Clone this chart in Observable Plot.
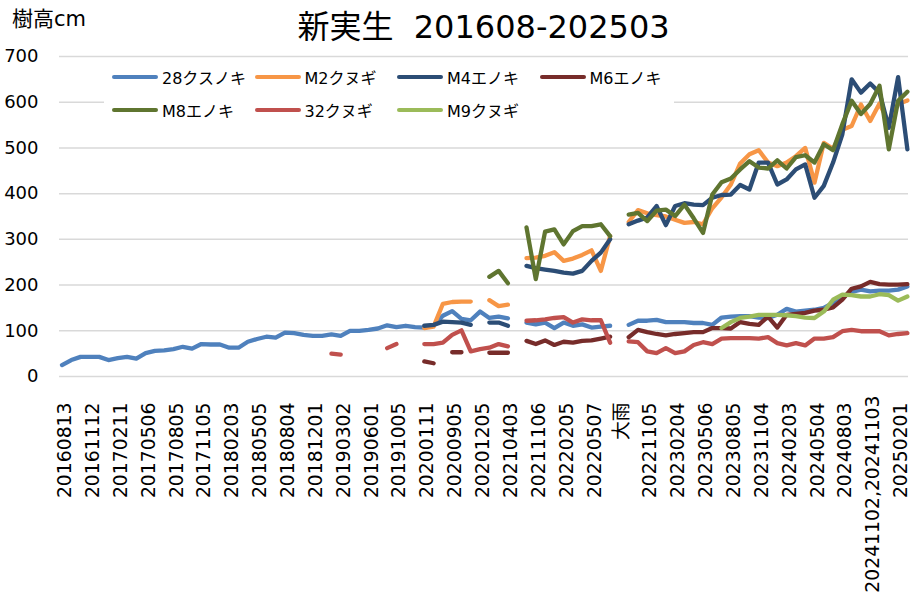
<!DOCTYPE html>
<html>
<head>
<meta charset="utf-8">
<script src="https://cdn.jsdelivr.net/npm/d3@7"></script>
<script src="https://cdn.jsdelivr.net/npm/@observablehq/plot@0.6"></script>
<style>
  html, body { margin: 0; padding: 0; background: #fff; }
  #wrap { position: relative; width: 910px; height: 598px; overflow: hidden;
          font-family: "DejaVu Sans", "Noto Sans CJK JP", sans-serif; color: #000; }
  #head { position: relative; height: 48px; }
  #title { position: absolute; left: 59px; right: 2px; top: 11px; text-align: center;
           font-size: 32px; line-height: 32px; white-space: pre; }
  #ylab { position: absolute; left: 12px; top: 9px; font-size: 21px; line-height: 21px; }
  #legend { position: absolute; left: 104px; top: 60px; width: 570px; height: 62px; background: #fff; }
  .item { position: absolute; height: 20px; display: flex; align-items: center; font-size: 16px; white-space: nowrap; }
  .swatch { width: 46px; height: 4.5px; border-radius: 3px; margin-right: 4px; }
  svg { display: block; }
</style>
</head>
<body>
<div id="wrap">
  <div id="head">
    <div id="ylab">樹高cm</div>
    <div id="title">新実生  201608-202503</div>
  </div>
  <div id="chart"></div>
  <div id="legend"></div>
</div>
<script>
const _ = null;

// x tick labels: one every 3 categories (92 categories, index 0..91)
const tickLabels = ["20160813","20161112","20170211","20170506","20170805","20171105","20180203",
  "20180505","20180804","20181201","20190302","20190601","20191005","20200111","20200905",
  "20201205","20210403","20211106","20220205","20220507","大雨","20221105","20230204",
  "20230506","20230805","20231104","20240203","20240504","20240803","20241102,20241103","20250201"];
const categoryCount = 92;
const yTicks = [0, 100, 200, 300, 400, 500, 600, 700];

const seriesNames = ["28クスノキ","M2クヌギ","M4エノキ","M6エノキ","M8エノキ","32クヌギ","M9クヌギ"];
const seriesColors = ["#4F81BD","#F79646","#2C4D75","#772C2A","#5F7530","#C0504D","#9BBB59"];

const s28 = [
/*0*/ 25,36,43,43,43,36,40,43,39,51,
/*10*/ 56,57,60,65,61,71,70,70,63,63,
/*20*/ 76,82,87,85,96,95,91,89,89,92,
/*30*/ 89,100,100,102,105,112,108,111,108,107,
/*40*/ 112,133,143,126,123,142,128,131,127,_,
/*50*/ 118,114,118,106,118,111,114,107,109,111,
/*60*/ _,113,122,122,124,119,119,119,117,117,
/*70*/ 113,129,131,132,132,129,128,135,148,142,
/*80*/ 144,146,150,161,173,185,190,186,188,188,
/*90*/ 190,197];

const sM2 = [
/*0*/ _,_,_,_,_,_,_,_,_,_,
/*10*/ _,_,_,_,_,_,_,_,_,_,
/*20*/ _,_,_,_,_,_,_,_,_,_,
/*30*/ _,_,_,_,_,_,_,_,_,106,
/*40*/ 109,159,163,164,164,_,167,154,157,_,
/*50*/ 259,260,264,272,253,258,266,276,231,307,
/*60*/ _,338,364,357,353,350,343,336,338,333,
/*70*/ 368,392,420,466,486,495,468,460,468,482,
/*80*/ 500,424,511,498,540,548,595,559,597,555,
/*90*/ 596,604];

const sM4 = [
/*0*/ _,_,_,_,_,_,_,_,_,_,
/*10*/ _,_,_,_,_,_,_,_,_,_,
/*20*/ _,_,_,_,_,_,_,_,_,_,
/*30*/ _,_,_,_,_,_,_,_,_,111,
/*40*/ 113,120,119,118,113,_,118,118,111,_,
/*50*/ 242,237,234,231,227,225,231,253,271,300,
/*60*/ _,333,341,348,373,331,373,379,376,375,
/*70*/ 391,397,398,419,409,468,468,420,431,453,
/*80*/ 464,391,417,468,530,650,621,641,621,544,
/*90*/ 655,497];

const sM6 = [
/*0*/ _,_,_,_,_,_,_,_,_,_,
/*10*/ _,_,_,_,_,_,_,_,_,_,
/*20*/ _,_,_,_,_,_,_,_,_,_,
/*30*/ _,_,_,_,_,_,_,_,_,33,
/*40*/ 29,_,53,53,_,_,52,52,52,_,
/*50*/ 78,71,79,69,76,74,78,79,83,87,
/*60*/ _,86,102,97,93,90,93,95,97,97,
/*70*/ 106,106,105,119,115,113,131,107,135,137,
/*80*/ 139,144,146,151,168,192,197,207,202,201,
/*90*/ 201,202];

const sM8 = [
/*0*/ _,_,_,_,_,_,_,_,_,_,
/*10*/ _,_,_,_,_,_,_,_,_,_,
/*20*/ _,_,_,_,_,_,_,_,_,_,
/*30*/ _,_,_,_,_,_,_,_,_,_,
/*40*/ _,_,_,_,_,_,218,231,204,_,
/*50*/ 326,213,317,322,289,318,329,329,333,307,
/*60*/ _,354,358,340,363,365,351,376,346,314,
/*70*/ 398,425,433,453,471,457,455,473,455,480,
/*80*/ 484,468,508,495,552,603,574,596,636,497,
/*90*/ 603,623];

const s32 = [
/*0*/ _,_,_,_,_,_,_,_,_,_,
/*10*/ _,_,_,_,_,_,_,_,_,_,
/*20*/ _,_,_,_,_,_,_,_,_,50,
/*30*/ 48,_,_,_,_,62,71,_,_,71,
/*40*/ 71,74,91,101,55,60,63,71,66,_,
/*50*/ 122,123,125,128,130,118,125,123,123,74,
/*60*/ _,77,75,55,51,62,51,55,69,75,
/*70*/ 71,83,84,84,84,83,86,73,68,73,
/*80*/ 68,83,83,86,99,102,99,99,99,90,
/*90*/ 93,95];

const sM9 = [
/*0*/ _,_,_,_,_,_,_,_,_,_,
/*10*/ _,_,_,_,_,_,_,_,_,_,
/*20*/ _,_,_,_,_,_,_,_,_,_,
/*30*/ _,_,_,_,_,_,_,_,_,_,
/*40*/ _,_,_,_,_,_,_,_,_,_,
/*50*/ _,_,_,_,_,_,_,_,_,_,
/*60*/ _,_,_,_,_,_,_,_,_,_,
/*70*/ _,106,119,128,131,135,135,135,134,132,
/*80*/ 129,128,142,168,179,178,175,175,180,178,
/*90*/ 166,175];

const seriesValues = [s28, sM2, sM4, sM6, sM8, s32, sM9];

const lineMarks = seriesValues.map((vals, k) =>
  Plot.line(vals.map((v, i) => ({i, v})), {
    x: "i", y: "v", stroke: seriesColors[k], strokeWidth: 4.3,
    strokeLinecap: "round", strokeLinejoin: "round"
  })
);

// tick positions: every third category; the long combined label sits slightly higher
const allTicks = tickLabels.map((_, k) => k * 3);
const longTicks = allTicks.filter(d => tickLabels[d / 3].length > 10);
const normalTicks = allTicks.filter(d => tickLabels[d / 3].length <= 10);

const chart = Plot.plot({
  width: 910,
  height: 550,
  marginTop: 8,
  marginBottom: 222,
  marginLeft: 59,
  marginRight: 2,
  x: {type: "linear", domain: [-0.27, categoryCount - 1 + 0.12]},
  y: {domain: [0, 700]},
  style: {fontFamily: "'DejaVu Sans','Noto Sans CJK JP',sans-serif", background: "#fff", color: "#000", overflow: "visible"},
  marks: [
    Plot.ruleY(yTicks, {stroke: "#d9d9d9", strokeWidth: 1.5}),
    Plot.axisY({ticks: yTicks, tickSize: 0, tickPadding: 21, fontSize: 18, label: null}),
    Plot.axisX({ticks: normalTicks, tickFormat: d => tickLabels[d / 3],
      tickRotate: -90, tickSize: 0, tickPadding: 26, dx: 3, fontSize: 18.8, label: null}),
    Plot.axisX({ticks: longTicks, tickFormat: d => tickLabels[d / 3],
      tickRotate: -90, tickSize: 0, tickPadding: 19, dx: 3, fontSize: 18.8, label: null}),
    ...lineMarks
  ]
});
document.getElementById("chart").appendChild(chart);

// legend (inside plot area, two rows)
const legend = document.getElementById("legend");
seriesNames.forEach((name, k) => {
  const row = k < 4 ? 0 : 1;
  const col = k < 4 ? k : k - 4;
  const item = document.createElement("div");
  item.className = "item";
  item.style.left = (8 + col * 142.5) + "px";
  item.style.top = (row === 0 ? 7 : 40) + "px";
  const sw = document.createElement("div");
  sw.className = "swatch";
  sw.style.background = seriesColors[k];
  const tx = document.createElement("span");
  tx.textContent = name;
  item.appendChild(sw);
  item.appendChild(tx);
  legend.appendChild(item);
});
</script>
</body>
</html>
